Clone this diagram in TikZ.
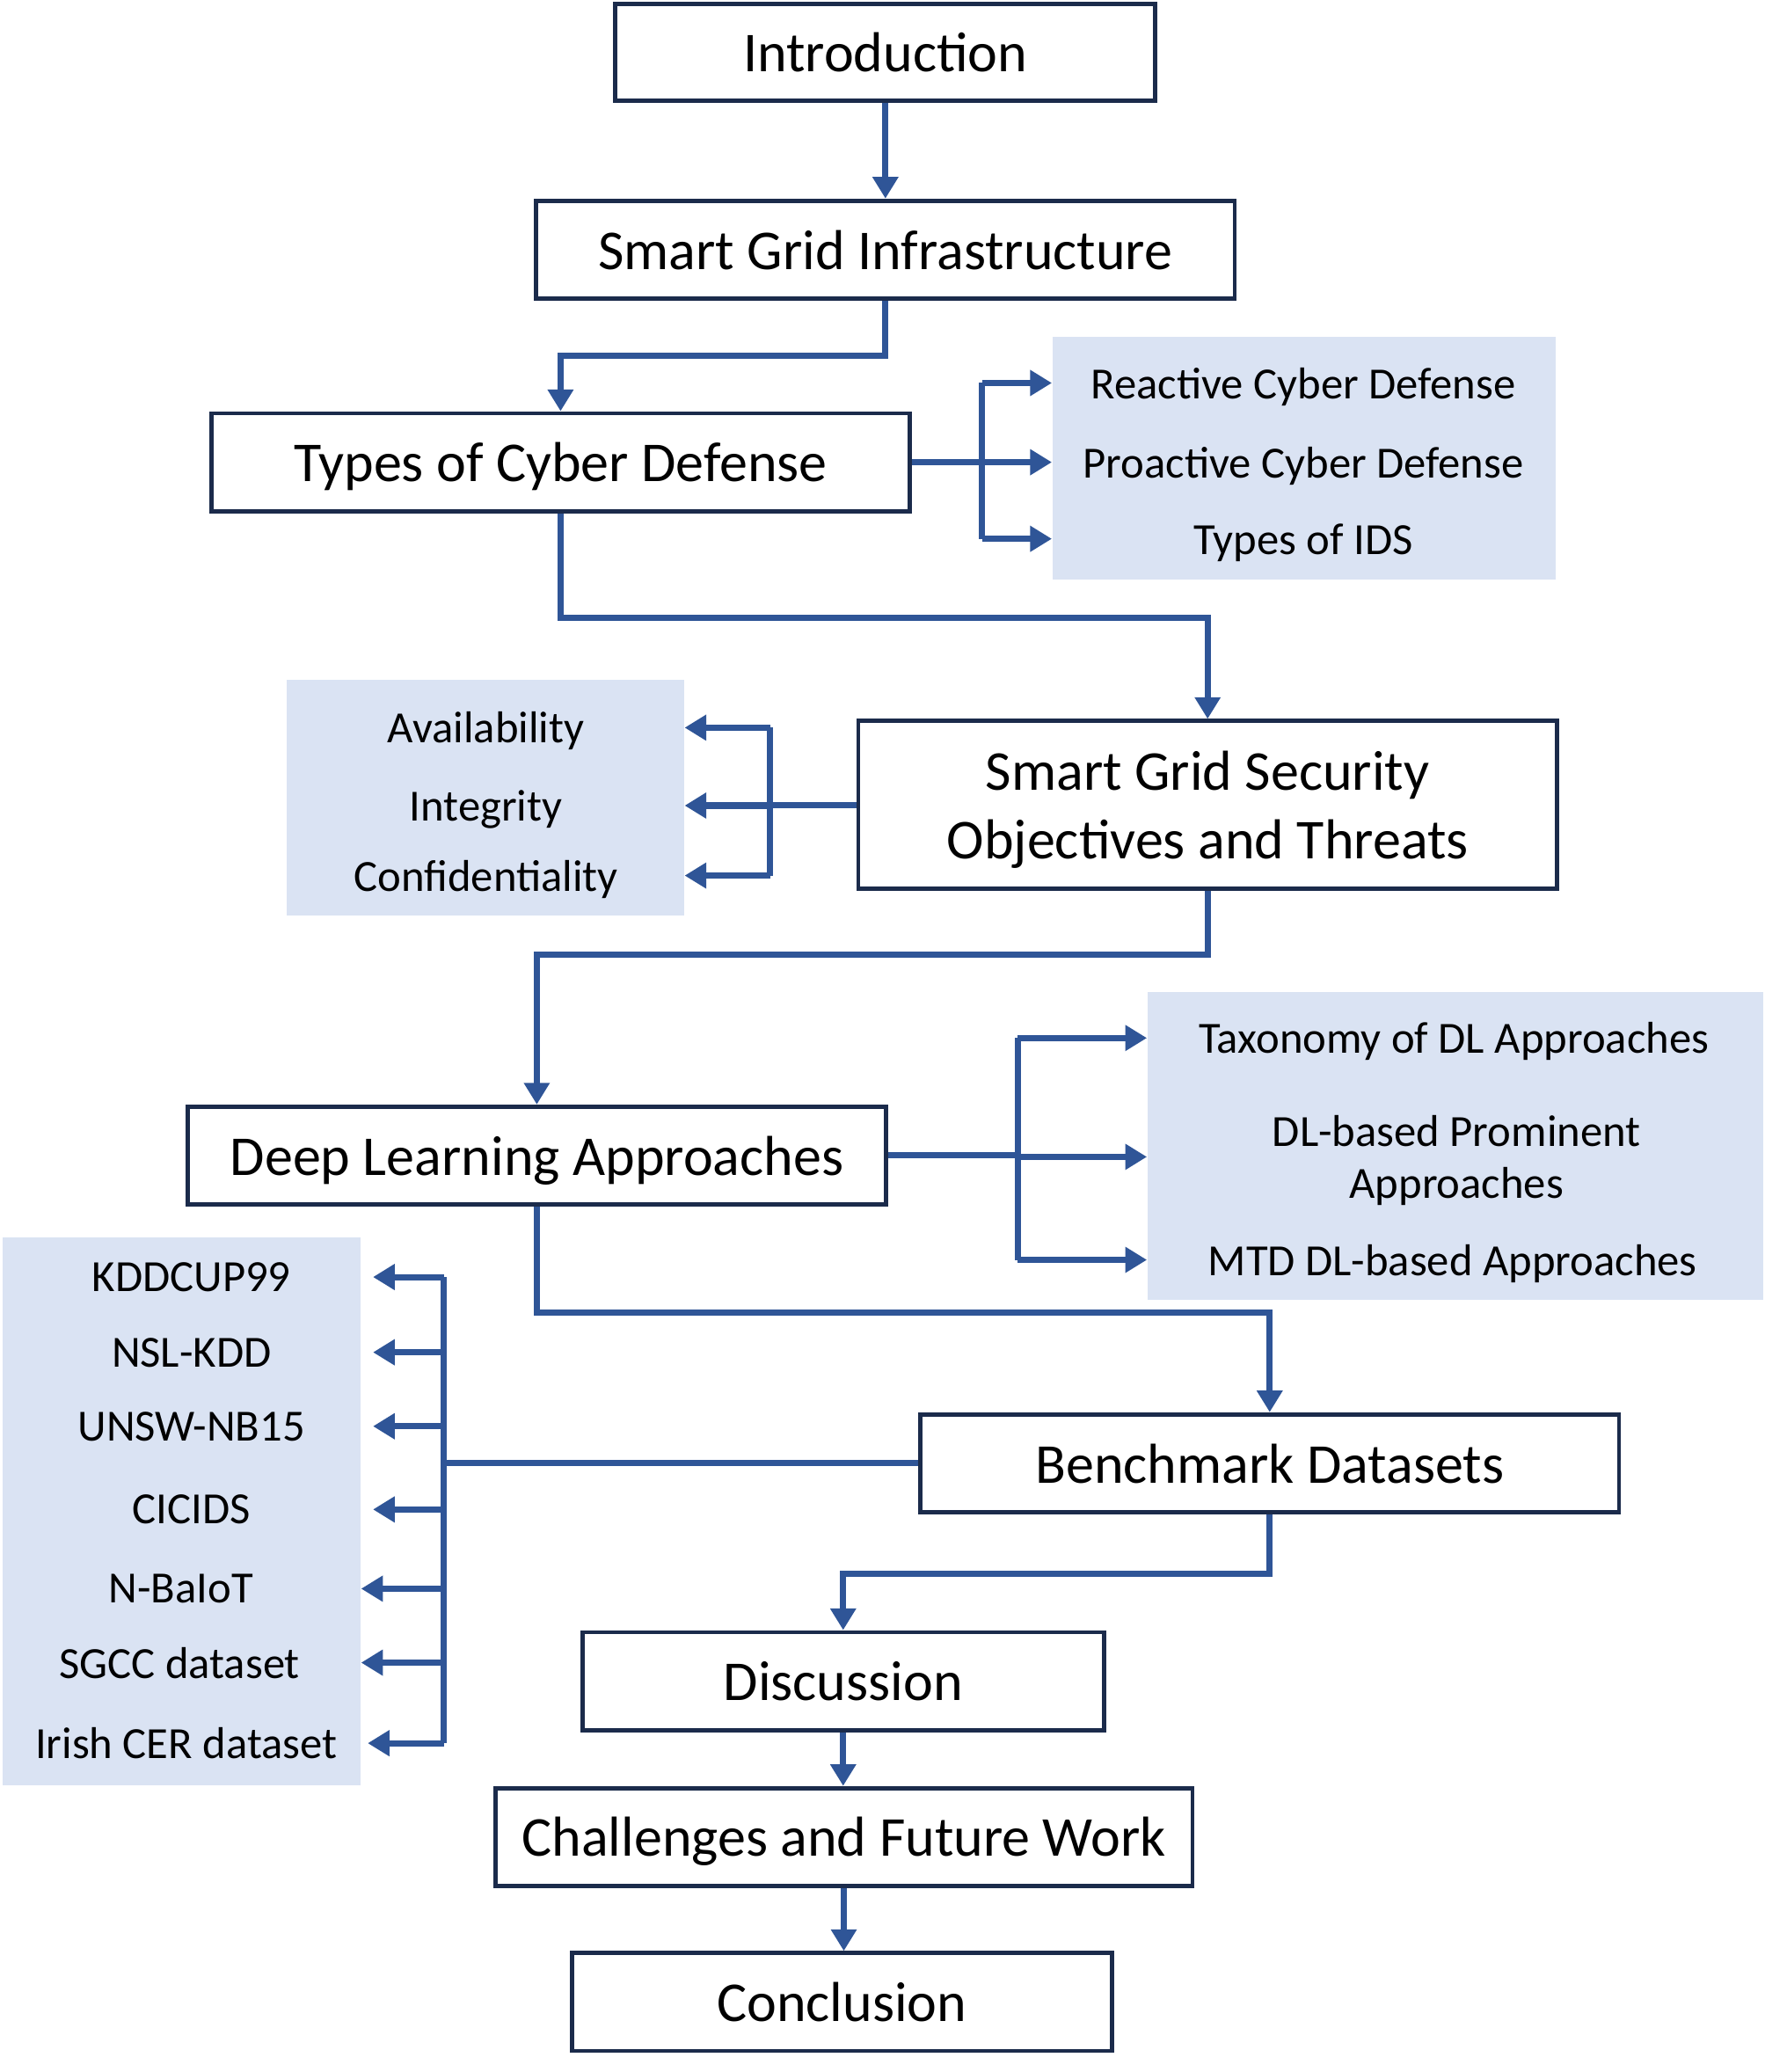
\documentclass[tikz,border=0pt]{standalone}
\usepackage{fontspec}
\setmainfont{Carlito}
\usetikzlibrary{arrows.meta,calc}
\definecolor{boxline}{HTML}{1B2B4B}
\definecolor{arrcol}{HTML}{2F5597}
\definecolor{shade}{HTML}{DAE3F3}
\tikzset{
  mainbox/.style={draw=boxline, line width=1.4pt, fill=white, minimum height=1.11cm, inner sep=0pt, text depth=0pt, font=\fontsize{18.2}{22.2}\selectfont, align=center},
  shadebox/.style={fill=shade, draw=none, inner sep=0pt},
  subtext/.style={font=\fontsize{14.4}{17}\selectfont, align=center, inner sep=0pt, text depth=0pt},
  conn/.style={draw=arrcol, line width=2pt},
  arr/.style={conn, -{Triangle[length=7pt,width=8pt]}}
}
\begin{document}
\begin{tikzpicture}[x=0.015cm,y=-0.015cm]
\useasboundingbox (0,0) rectangle (1336,1569);
% shaded panels
\node[shadebox, minimum width=5.715cm, minimum height=2.76cm] (s1) at (987.5,347) {};
\node[shadebox, minimum width=4.515cm, minimum height=2.67cm] (s2) at (367.5,604) {};
\node[shadebox, minimum width=6.99cm, minimum height=3.495cm] (s3) at (1102,867.5) {};
\node[shadebox, minimum width=4.065cm, minimum height=6.225cm] (s4) at (137.5,1144.5) {};
% main boxes
\node[mainbox, minimum width=6.135cm, minimum height=1.095cm] (intro) at (670.5,39.5) {Introduction};
\node[mainbox, minimum width=7.935cm] (sgi) at (670.5,189) {Smart Grid Infrastructure};
\node[mainbox, minimum width=7.935cm] (tcd) at (424.5,350) {Types of Cyber Defense};
\node[mainbox, minimum width=7.935cm, minimum height=1.905cm] (sgs) at (914.5,609.5) {Smart Grid Security\\Objectives and Threats};
\node[mainbox, minimum width=7.935cm] (dla) at (406.5,875) {Deep Learning Approaches};
\node[mainbox, minimum width=7.935cm] (bd) at (961.5,1108) {Benchmark Datasets};
\node[mainbox, minimum width=5.925cm] (disc) at (638.5,1273) {Discussion};
\node[mainbox, minimum width=7.92cm] (chal) at (639,1391) {Challenges and Future Work};
\node[mainbox, minimum width=6.135cm] (conc) at (637.5,1516) {Conclusion};
% sub texts
\node[subtext] (t11) at (987,290) {Reactive Cyber Defense};
\node[subtext] (t12) at (987,350) {Proactive Cyber Defense};
\node[subtext] (t13) at (987,408) {Types of IDS};
\node[subtext] (t21) at (368,551) {Availability};
\node[subtext] (t22) at (368,610) {Integrity};
\node[subtext] (t23) at (368,663) {Confidentiality};
\node[subtext] (t31) at (1101,786) {Taxonomy of DL Approaches};
\node[subtext] (t32) at (1103,876) {DL-based Prominent\\Approaches};
\node[subtext] (t33) at (1100,954) {MTD DL-based Approaches};
\node[subtext] (t41) at (145,967) {KDDCUP99};
\node[subtext] (t42) at (145,1024) {NSL-KDD};
\node[subtext] (t43) at (145,1080) {UNSW-NB15};
\node[subtext] (t44) at (145,1143) {CICIDS};
\node[subtext] (t45) at (137,1203) {N-BaIoT};
\node[subtext] (t46) at (136,1259) {SGCC dataset};
\node[subtext] (t47) at (141,1320) {Irish CER dataset};
% main flow
\draw[arr] (intro.south) -- (sgi.north);
\draw[arr] (sgi.south) -- ++(0,42) -| (tcd.north);
\draw[arr] (tcd.south) -- ++(0,79) -| (sgs.north);
\draw[arr] (sgs.south) -- ++(0,48) -| (dla.north);
\draw[arr] (dla.south) -- ++(0,80) -| (bd.north);
\draw[arr] (bd.south) -- ++(0,45) -| (disc.north);
\draw[arr] (disc.south) -- (disc.south |- chal.north);
\draw[arr] (chal.south) -- (chal.south |- conc.north);
% branch 1
\coordinate (b1) at ($(tcd.east)+(53,0)$);
\draw[conn] (tcd.east) -- (b1);
\draw[conn] (b1 |- t11) -- (b1 |- t13);
\draw[arr] (b1 |- t11) -- (s1.west |- t11);
\draw[arr] (b1 |- t12) -- (s1.west |- t12);
\draw[arr] (b1 |- t13) -- (s1.west |- t13);
% branch 2
\coordinate (b2) at ($(sgs.west)+(-65,0)$);
\draw[conn] (sgs.west) -- (b2);
\draw[conn] (b2 |- t21) -- (b2 |- t23);
\draw[arr] (b2 |- t21) -- (s2.east |- t21);
\draw[arr] (b2 |- t22) -- (s2.east |- t22);
\draw[arr] (b2 |- t23) -- (s2.east |- t23);
% branch 3
\coordinate (b3) at ($(dla.east)+(98,0)$);
\draw[conn] (dla.east) -- (b3);
\draw[conn] (b3 |- t31) -- (b3 |- t33);
\draw[arr] (b3 |- t31) -- (s3.west |- t31);
\draw[arr] (b3 |- t32) -- (s3.west |- t32);
\draw[arr] (b3 |- t33) -- (s3.west |- t33);
% branch 4
\coordinate (b4) at (336,1108);
\draw[conn] (bd.west) -- (b4);
\draw[conn] (b4 |- t41) -- (b4 |- t47);
\draw[arr] (b4 |- t41) -- ([xshift=9*0.015cm]s4.east |- t41);
\draw[arr] (b4 |- t42) -- ([xshift=9*0.015cm]s4.east |- t42);
\draw[arr] (b4 |- t43) -- ([xshift=9*0.015cm]s4.east |- t43);
\draw[arr] (b4 |- t44) -- ([xshift=9*0.015cm]s4.east |- t44);
\draw[arr] (b4 |- t45) -- (s4.east |- t45);
\draw[arr] (b4 |- t46) -- (s4.east |- t46);
\draw[arr] (b4 |- t47) -- ([xshift=5*0.015cm]s4.east |- t47);
\end{tikzpicture}
\end{document}
